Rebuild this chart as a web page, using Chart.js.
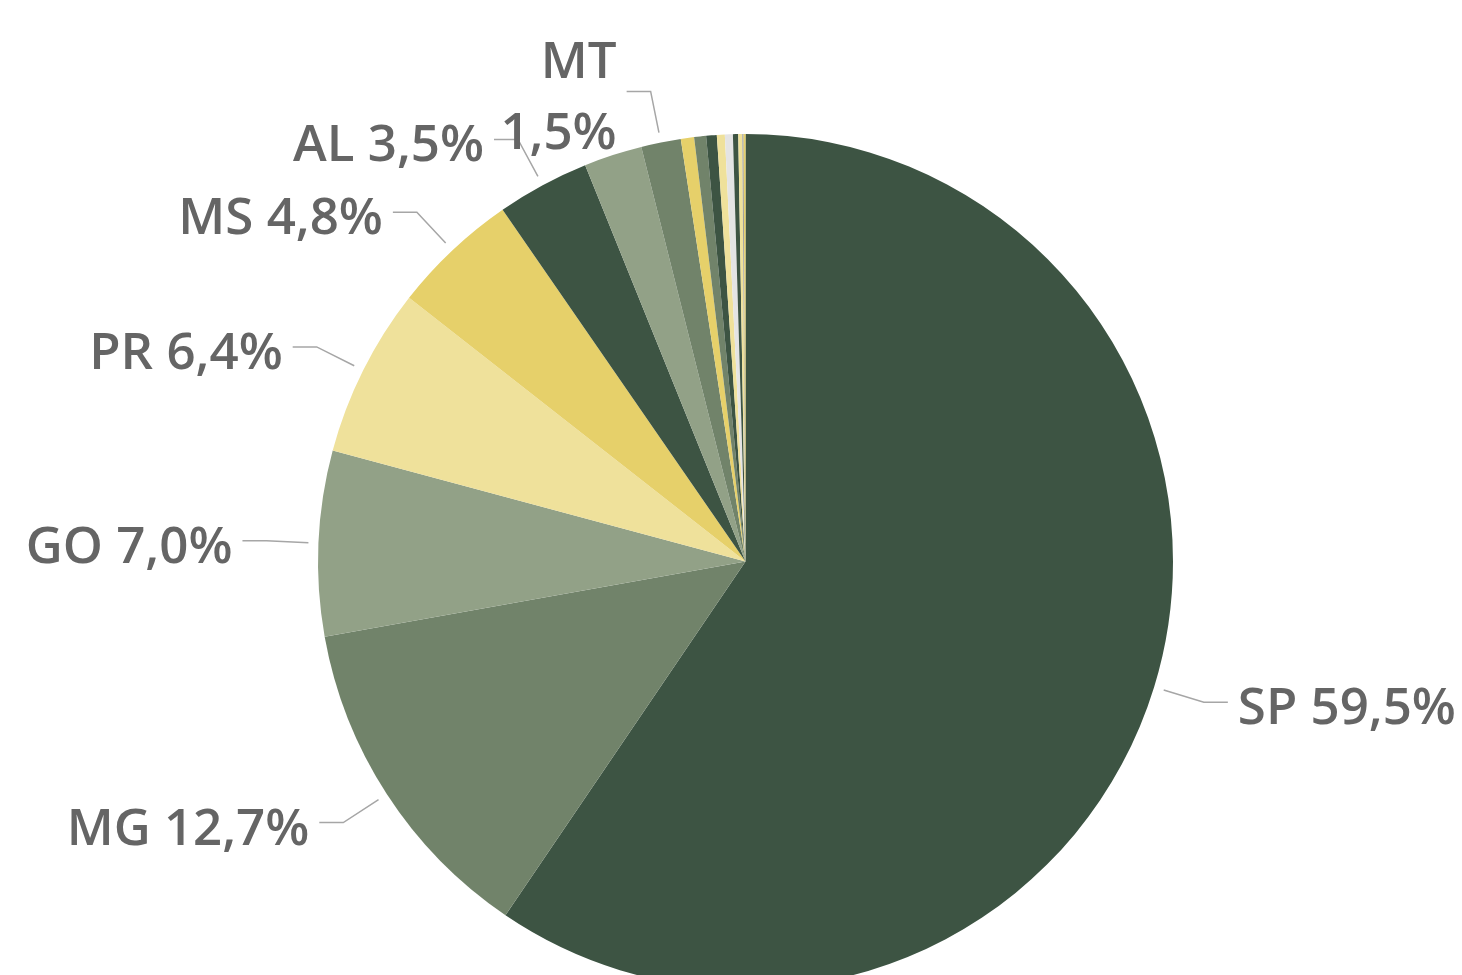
<!DOCTYPE html>
<html>
<head>
<meta charset="utf-8">
<script src="https://cdn.jsdelivr.net/npm/chart.js@4"></script>
<style>
  html, body { margin: 0; padding: 0; background: #fff; overflow: hidden; }
  #wrap { position: relative; width: 1462px; height: 1000px; }
</style>
</head>
<body>
<div id="wrap"><canvas id="myChart"></canvas></div>
<script>
// states, clockwise from 12 o'clock
var states = ['SP', 'MG', 'GO', 'PR', 'MS', 'AL', 'BA', 'MT', 'RJ', 'PE', 'SC', 'RS', 'TO', 'PB', 'MA', 'RN', 'ES'];
// share in %
var shares = [59.5, 12.7, 7.0, 6.4, 4.8, 3.5, 2.2, 1.5, 0.5, 0.45, 0.4, 0.3, 0.3, 0.2, 0.15, 0.05, 0.07];
var sliceColors = ['#3d5443', '#71836a', '#92a187', '#efe19b', '#e6d06a', '#3d5443', '#92a187', '#71836a',
    '#e6d06a', '#71836a', '#3d5443', '#efe19b', '#e4e4e4', '#3d5443', '#efe19b', '#a0a0a0', '#e6d06a'];
// which slices get a label, and which label wraps onto two lines
var showLabel = [true, true, true, true, true, true, false, true, false, false, false, false, false, false, false, false, false];
var wrapLabel = [false, false, false, false, false, false, false, true, false, false, false, false, false, false, false, false, false];

var FONT = '600 51px "Open Sans", "Noto Sans", sans-serif';

var leaderLabels = {
    id: 'leaderLabels',
    afterDatasetsDraw: function (chart) {
        var ctx = chart.ctx;
        var arcs = chart.getDatasetMeta(0).data;
        ctx.save();
        ctx.font = FONT;
        ctx.fillStyle = '#656565';
        ctx.strokeStyle = '#a6a6a6';
        ctx.lineWidth = 1.5;
        arcs.forEach(function (arc, i) {
            if (!showLabel[i]) return;
            var p = arc.getProps(['x', 'y', 'startAngle', 'endAngle', 'outerRadius'], true);
            var a = (p.startAngle + p.endAngle) / 2;
            var right = Math.cos(a) >= 0;
            var r1 = p.outerRadius + 10, r2 = p.outerRadius + 52;
            var x1 = p.x + Math.cos(a) * r1, y1 = p.y + Math.sin(a) * r1;
            var x2 = p.x + Math.cos(a) * r2, y2 = p.y + Math.sin(a) * r2;
            var x3 = x2 + (right ? 24 : -24);
            ctx.beginPath();
            ctx.moveTo(x1, y1);
            ctx.lineTo(x2, y2);
            ctx.lineTo(x3, y2);
            ctx.stroke();

            var pct = shares[i].toFixed(1).replace('.', ',') + '%';
            var tx = x3 + (right ? 10 : -10);
            ctx.textAlign = right ? 'left' : 'right';
            ctx.textBaseline = 'alphabetic';
            if (wrapLabel[i]) {
                ctx.fillText(states[i], tx, y2 - 13);
                ctx.fillText(pct, tx, y2 + 58);
            } else {
                ctx.fillText(states[i] + ' ' + pct, tx, y2 + 22);
            }
        });
        ctx.restore();
    }
};

var config = {
    type: 'pie',
    data: {
        labels: states,
        datasets: [{
            data: shares,
            backgroundColor: sliceColors,
            borderWidth: 0
        }]
    },
    options: {
        responsive: true,
        maintainAspectRatio: false,
        animation: false,
        events: [],
        layout: {
            padding: { top: 134, bottom: 11, left: 29, right: 0 }
        },
        plugins: {
            legend: { display: false },
            tooltip: { enabled: false }
        }
    },
    plugins: [leaderLabels]
};

var myChart = new Chart(document.getElementById('myChart'), config);
</script>
</body>
</html>
